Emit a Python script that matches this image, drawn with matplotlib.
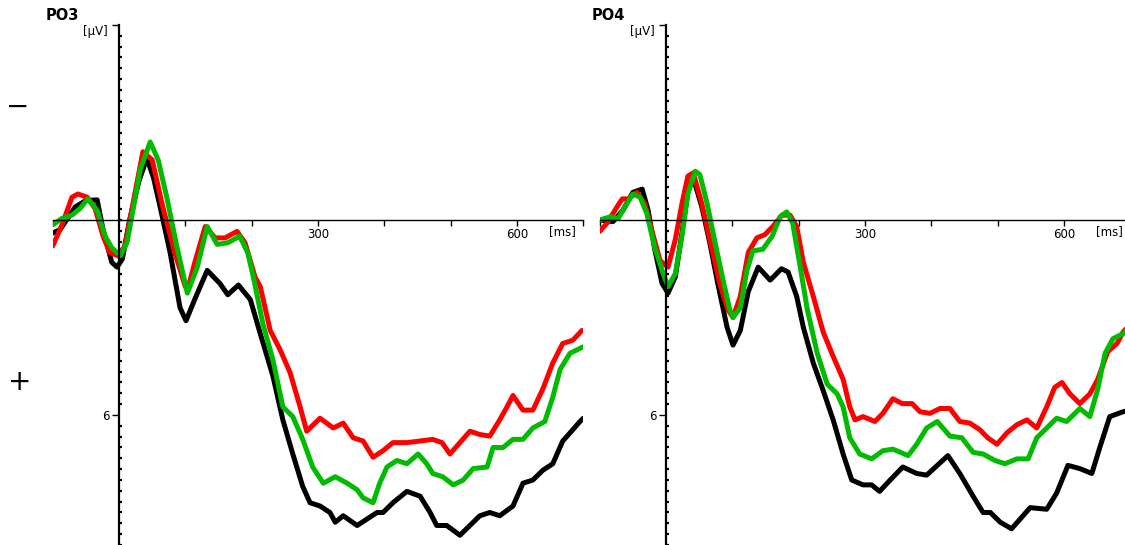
import numpy as np
import matplotlib
matplotlib.use("Agg")
import matplotlib.pyplot as plt
from matplotlib.ticker import FixedLocator, NullFormatter, FixedFormatter

# --- data (time in ms, amplitude in microvolts, negative plotted up) ---
po3_black_t = [-100, -89, -66, -50, -33, -24, -11, -3, 5, 16, 30, 42, 52, 62, 77, 92, 101, 115, 133,
               152, 164, 180, 198, 213, 232, 247, 262, 277, 288, 303, 318, 326, 338, 359, 374, 389,
               398, 413, 434, 454, 469, 479, 494, 514, 529, 544, 559, 574, 594, 609, 624, 639, 654,
               669, 680, 695, 700]
po3_black_v = [0.4, 0.3, -0.4, -0.6, -0.62, 0.3, 1.3, 1.45, 1.2, 0.0, -1.2, -1.9, -1.3, -0.4, 1.0,
               2.7, 3.1, 2.4, 1.55, 1.95, 2.3, 2.0, 2.45, 3.5, 4.8, 6.15, 7.2, 8.2, 8.7, 8.8, 9.0,
               9.3, 9.1, 9.4, 9.2, 9.0, 9.0, 8.7, 8.35, 8.5, 9.0, 9.4, 9.4, 9.7, 9.4, 9.1, 9.0, 9.1,
               8.8, 8.1, 8.0, 7.7, 7.5, 6.8, 6.55, 6.2, 6.1]

po3_red_t = [-100, -86, -71, -62, -48, -36, -24, -14, -2, 9, 21, 36, 50, 66, 84, 100, 104, 115, 130,
             145, 160, 178, 190, 205, 213, 228, 243, 258, 273, 283, 303, 323, 338, 353, 368, 383,
             398, 413, 434, 454, 473, 487, 499, 514, 529, 544, 559, 574, 585, 594, 609, 624, 639,
             654, 669, 684, 698]
po3_red_v = [0.8, 0.15, -0.7, -0.8, -0.7, -0.35, 0.5, 1.0, 1.1, 0.8, -0.5, -2.1, -1.85, -0.4, 1.0,
             2.05, 2.1, 1.25, 0.2, 0.55, 0.55, 0.35, 0.7, 1.75, 2.05, 3.4, 4.0, 4.7, 5.75, 6.5, 6.1,
             6.4, 6.25, 6.7, 6.8, 7.3, 7.1, 6.85, 6.85, 6.8, 6.75, 6.85, 7.2, 6.85, 6.5, 6.6, 6.65,
             6.15, 5.75, 5.4, 5.85, 5.85, 5.2, 4.4, 3.8, 3.7, 3.4]

po3_green_t = [-100, -86, -71, -59, -47, -33, -21, -11, 2, 12, 21, 32, 47, 59, 72, 87, 103, 118, 133,
               148, 164, 182, 194, 203, 217, 232, 247, 262, 277, 292, 308, 326, 344, 359, 368, 383,
               393, 404, 419, 434, 451, 464, 473, 488, 504, 519, 534, 555, 564, 579, 594, 609, 624,
               642, 654, 665, 680, 695, 700]
po3_green_v = [0.15, -0.05, -0.15, -0.35, -0.65, -0.3, 0.5, 0.85, 1.1, 0.7, -0.3, -1.55, -2.4, -1.85,
               -0.7, 0.8, 2.25, 1.45, 0.2, 0.75, 0.7, 0.5, 1.0, 1.8, 3.2, 4.3, 5.75, 6.05, 6.75, 7.6,
               8.1, 7.9, 8.1, 8.3, 8.55, 8.7, 8.1, 7.6, 7.4, 7.5, 7.2, 7.5, 7.8, 7.9, 8.15, 8.0, 7.65,
               7.6, 7.0, 7.0, 6.75, 6.75, 6.4, 6.2, 5.45, 4.6, 4.1, 3.95, 3.9]

po4_black_t = [-100, -80, -65, -50, -36, -27, -17, -6, 3, 14, 24, 33, 41, 54, 66, 78, 92, 101, 112,
               124, 139, 157, 174, 184, 197, 207, 222, 237, 252, 267, 280, 297, 310, 322, 338, 357,
               378, 393, 409, 425, 443, 463, 478, 489, 504, 521, 534, 549, 574, 589, 606, 624, 642,
               654, 669, 689, 700]
po4_black_v = [0.0, 0.05, -0.3, -0.85, -0.95, -0.3, 0.9, 1.95, 2.25, 1.75, 0.4, -0.9, -1.3, -0.4, 0.7,
               1.95, 3.3, 3.85, 3.4, 2.2, 1.45, 1.85, 1.5, 1.6, 2.35, 3.3, 4.4, 5.25, 6.15, 7.2, 8.0,
               8.15, 8.15, 8.35, 8.0, 7.6, 7.8, 7.85, 7.55, 7.25, 7.8, 8.5, 9.0, 9.0, 9.3, 9.5, 9.2,
               8.85, 8.9, 8.4, 7.55, 7.65, 7.8, 7.0, 6.05, 5.9, 5.85]

po4_red_t = [-100, -89, -74, -66, -57, -44, -32, -21, -9, 3, 14, 24, 33, 41, 54, 66, 81, 93, 101, 112,
             124, 137, 149, 161, 175, 187, 197, 207, 222, 237, 252, 267, 277, 285, 297, 315, 327,
             342, 356, 371, 383, 398, 413, 428, 443, 458, 473, 485, 499, 514, 529, 544, 559, 574,
             586, 597, 609, 624, 639, 651, 666, 680, 689, 700]
po4_red_v = [0.35, 0.1, -0.4, -0.65, -0.65, -0.85, -0.5, 0.35, 1.25, 1.45, 0.6, -0.5, -1.35, -1.45,
             -0.5, 0.6, 1.95, 2.75, 3.0, 2.35, 1.0, 0.55, 0.45, 0.2, -0.15, -0.15, 0.2, 1.3, 2.35,
             3.45, 4.2, 4.9, 5.75, 6.15, 6.05, 6.2, 5.95, 5.5, 5.65, 5.65, 5.9, 5.95, 5.8, 5.8, 6.2,
             6.25, 6.45, 6.7, 6.9, 6.55, 6.3, 6.15, 6.4, 5.75, 5.15, 5.0, 5.35, 5.65, 5.35, 4.9,
             4.05, 3.8, 3.45, 3.2]

po4_green_t = [-100, -84, -72, -62, -50, -39, -29, -17, -6, 3, 14, 24, 33, 44, 51, 62, 74, 86, 96, 101,
               112, 122, 131, 146, 160, 172, 182, 191, 202, 213, 228, 243, 258, 267, 277, 292, 310,
               327, 342, 365, 378, 393, 409, 428, 446, 463, 478, 496, 511, 529, 546, 559, 574, 589,
               604, 624, 639, 651, 662, 674, 689, 700]
po4_green_v = [0.0, -0.1, -0.05, -0.4, -0.8, -0.7, -0.2, 0.85, 1.55, 2.05, 1.65, 0.5, -0.8, -1.5, -1.4,
               -0.5, 0.7, 1.85, 2.75, 3.0, 2.7, 1.55, 0.95, 0.9, 0.5, -0.1, -0.25, 0.1, 1.4, 2.75, 4.1,
               5.05, 5.35, 5.75, 6.7, 7.2, 7.35, 7.1, 7.05, 7.25, 6.9, 6.4, 6.2, 6.65, 6.7, 7.15, 7.2,
               7.4, 7.5, 7.35, 7.35, 6.7, 6.4, 6.1, 6.2, 5.8, 6.05, 5.2, 4.1, 3.65, 3.5, 3.3]

panels = [
    ("PO3", [(po3_black_t, po3_black_v, "black"),
             (po3_red_t, po3_red_v, "#ff0000"),
             (po3_green_t, po3_green_v, "#00bb00")]),
    ("PO4", [(po4_black_t, po4_black_v, "black"),
             (po4_red_t, po4_red_v, "#ff0000"),
             (po4_green_t, po4_green_v, "#00bb00")]),
]

W, H = 1125, 545
fig = plt.figure(figsize=(W / 100, H / 100), dpi=100)

ax_lefts = [52.7, 599.7]
ax_width = 530.6
title_x = [46, 592]

for i, (name, series) in enumerate(panels):
    ax = fig.add_axes([ax_lefts[i] / W, 0, ax_width / W, 520 / H])
    ax.set_xlim(-100, 700)
    ax.set_ylim(10, -6)

    for t, v, c in series:
        ax.plot(t, v, color=c, lw=3.6, solid_joinstyle="round", solid_capstyle="round")

    ax.spines["top"].set_visible(False)
    ax.spines["right"].set_visible(False)
    ax.spines["left"].set_position(("data", 0))
    ax.spines["bottom"].set_position(("data", 0))
    ax.spines["left"].set_linewidth(1.6)
    ax.spines["bottom"].set_linewidth(1.0)
    ax.spines["left"].set_zorder(5)

    ax.xaxis.set_major_locator(FixedLocator([300, 600]))
    ax.xaxis.set_minor_locator(FixedLocator([-100, 100, 200, 400, 500, 700]))
    ax.xaxis.set_minor_formatter(NullFormatter())
    ax.tick_params(axis="x", which="both", direction="out", length=4, width=1.0,
                   pad=1.5, labelsize=8.5)

    ax.yaxis.set_major_locator(FixedLocator([-6, 6]))
    ax.yaxis.set_major_formatter(FixedFormatter(["", "6"]))
    ax.yaxis.set_minor_locator(FixedLocator(np.arange(-6, 10.01, 1 / 3)))
    ax.yaxis.set_minor_formatter(NullFormatter())
    ax.tick_params(axis="y", which="major", direction="out", length=5, width=1.0,
                   pad=2, labelsize=8.5)
    ax.tick_params(axis="y", which="minor", direction="in", length=2, width=1.6)

    ax.text(669, 0.37, "[ms]", ha="center", va="center", fontsize=8.5)
    ax.text(-17, -5.8, "[µV]", ha="right", va="center", fontsize=8.5)

    fig.text(title_x[i] / W, 1 - 16 / H, name, fontsize=10.5, fontweight="bold",
             ha="left", va="center")

fig.text(18 / W, 1 - 107 / H, "−", fontsize=20, ha="center", va="center")
fig.text(20 / W, 1 - 382 / H, "+", fontsize=20, ha="center", va="center")

fig.savefig("out.png", dpi=100)
